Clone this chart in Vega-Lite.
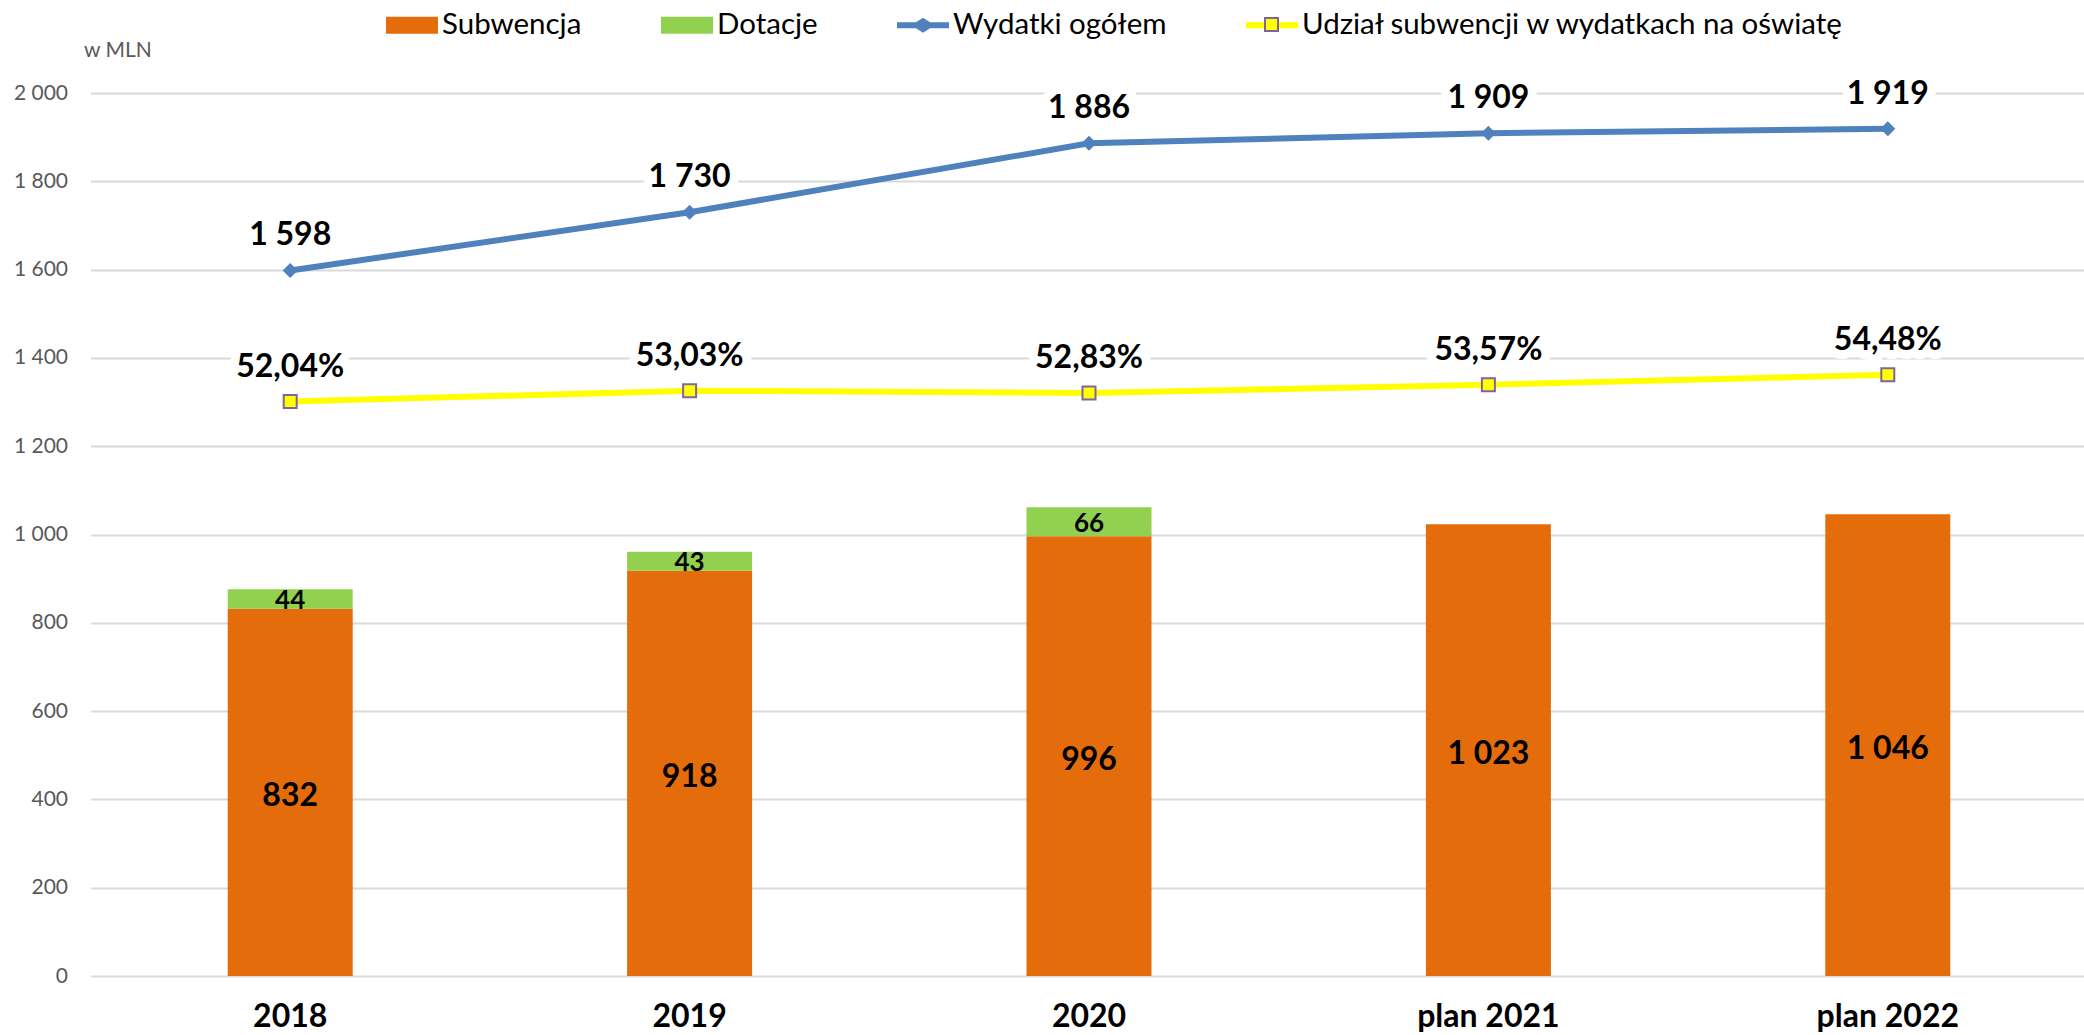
{
"$schema":"https://vega.github.io/schema/vega-lite/v6.json",
"width":1997,"height":883,
"autosize":{"type":"none"},
"padding":{"left":90.5,"top":93,"right":0,"bottom":59},
"background":"white",
"config":{
 "locale":{"number":{"decimal":",","thousands":"\u00a0","grouping":[3],"currency":["",""]}},
 "font":"Lato","view":{"stroke":null},
 "legend":{"symbolOpacity":1}
},
"datasets":{
 "bars":[
  {"year":"2018","series":"Subwencja","value":832},
  {"year":"2018","series":"Dotacje","value":44},
  {"year":"2019","series":"Subwencja","value":918},
  {"year":"2019","series":"Dotacje","value":43},
  {"year":"2020","series":"Subwencja","value":996},
  {"year":"2020","series":"Dotacje","value":66},
  {"year":"plan 2021","series":"Subwencja","value":1023},
  {"year":"plan 2022","series":"Subwencja","value":1046}
 ],
 "lines":[
  {"year":"2018","total":1598,"share":0.5204},
  {"year":"2019","total":1730,"share":0.5303},
  {"year":"2020","total":1886,"share":0.5283},
  {"year":"plan 2021","total":1909,"share":0.5357},
  {"year":"plan 2022","total":1919,"share":0.5448}
 ]
},
"encoding":{
 "x":{"field":"year","type":"nominal",
  "scale":{"domain":["2018","2019","2020","plan 2021","plan 2022"],"paddingInner":0.687,"paddingOuter":0.3435},
  "axis":{"title":null,"domain":false,"ticks":false,"labelAngle":0,"labelFont":"Lato","labelFontWeight":"bold","labelFontSize":32,"labelColor":"#000000","labelPadding":25,"grid":false}}
},
"layer":[
 {"data":{"name":"lines"},
  "mark":{"type":"text","font":"Lato","fontWeight":"bold","fontSize":32,"dy":-35,"stroke":"white","strokeWidth":18,"strokeJoin":"round","fill":"white"},
  "encoding":{
   "y":{"field":"total","type":"quantitative","scale":{"domain":[0,2000],"nice":false},
    "axis":{"title":"w MLN","titleAngle":0,"titleX":-7,"titleY":-43,"titleAlign":"left","titleBaseline":"middle","titleFont":"Lato","titleFontWeight":"normal","titleFontSize":21,"titleColor":"#595959",
     "values":[0,200,400,600,800,1000,1200,1400,1600,1800,2000],"format":",d","domain":false,"ticks":false,"labelFont":"Lato","labelFontSize":21,"labelColor":"#595959","labelPadding":23,
     "grid":true,"gridColor":"#D9D9D9","gridWidth":2}},
   "text":{"field":"total","type":"quantitative","format":",d"}
  }},
 {"data":{"name":"lines"},
  "mark":{"type":"text","font":"Lato","fontWeight":"bold","fontSize":32,"dy":-35,"stroke":"white","strokeWidth":18,"strokeJoin":"round","fill":"white"},
  "encoding":{
   "y":{"field":"share","type":"quantitative","scale":{"domain":[0,0.8],"nice":false},"axis":null},
   "text":{"field":"share","type":"quantitative","format":".2%"}
  }},
 {"data":{"name":"bars"},
  "transform":[{"stack":"value","groupby":["year"],"sort":[{"field":"series","order":"descending"}],"as":["v0","v1"]}],
  "mark":{"type":"bar","width":125},
  "encoding":{
   "y":{"field":"v0","type":"quantitative","scale":{"domain":[0,2000],"nice":false},"axis":null},
   "y2":{"field":"v1"},
   "color":{"field":"series","type":"nominal",
    "scale":{"domain":["Subwencja","Dotacje","Wydatki ogółem","Udział subwencji w wydatkach na oświatę"],"range":["#E46C0A","#92D050","#4F81BD","#FFFF00"]},
    "legend":{"title":null,"orient":"none","legendX":295.5,"legendY":-94,"columns":4,"columnPadding":79,"padding":0,"labelFont":"Lato","labelFontSize":29.5,"labelColor":"#000000","labelOffset":4,"symbolSize":2704,"symbolStrokeWidth":0,"labelLimit":700}}
  }},
 {"data":{"name":"bars"},
  "mark":{"type":"point","filled":true,"opacity":0},
  "encoding":{
   "color":{"field":"series","type":"nominal",
    "scale":{"domain":["Subwencja","Dotacje","Wydatki ogółem","Udział subwencji w wydatkach na oświatę"],"range":["#E46C0A","#92D050","#4F81BD","#FFFF00"]},
    "legend":{"title":null,"orient":"none","legendX":295.5,"legendY":-94,"columns":4,"columnPadding":79,"padding":0,"labelFont":"Lato","labelFontSize":29.5,"labelColor":"#000000","labelOffset":4,"symbolSize":2704,"symbolStrokeWidth":0,"labelLimit":700}},
   "shape":{"field":"series","type":"nominal",
    "scale":{"domain":["Subwencja","Dotacje","Wydatki ogółem","Udział subwencji w wydatkach na oświatę"],
     "range":["M-1,-0.327H1V0.327H-1Z","M-1,-0.327H1V0.327H-1Z","M-1,-0.115H-0.27L0,-0.29L0.27,-0.115H1V0.115H0.27L0,0.29L-0.27,0.115H-1Z","M-1,-0.115H1V0.115H-1Z"]},
    "legend":{"title":null,"orient":"none","legendX":295.5,"legendY":-94,"columns":4,"columnPadding":79,"padding":0,"labelFont":"Lato","labelFontSize":29.5,"labelColor":"#000000","labelOffset":4,"symbolSize":2704,"symbolStrokeWidth":0,"labelLimit":700}}
  }},
 {"data":{"name":"bars"},
  "transform":[
   {"stack":"value","groupby":["year"],"sort":[{"field":"series","order":"descending"}],"as":["v0","v1"]},
   {"filter":{"field":"series","equal":"Subwencja"}},
   {"fold":["v0","v1"],"as":["edge","pos"]}
  ],
  "mark":{"type":"text","font":"Lato","fontWeight":"bold","fontSize":32,"color":"#000000","dy":4},
  "encoding":{
   "y":{"aggregate":"mean","field":"pos","type":"quantitative","scale":{"domain":[0,2000],"nice":false},"axis":null},
   "text":{"field":"value","type":"quantitative","format":",d"}
  }},
 {"data":{"name":"bars"},
  "transform":[
   {"stack":"value","groupby":["year"],"sort":[{"field":"series","order":"descending"}],"as":["v0","v1"]},
   {"filter":{"field":"series","equal":"Dotacje"}},
   {"fold":["v0","v1"],"as":["edge","pos"]}
  ],
  "mark":{"type":"text","font":"Lato","fontWeight":"bold","fontSize":26,"color":"#000000","dy":2},
  "encoding":{
   "y":{"aggregate":"mean","field":"pos","type":"quantitative","scale":{"domain":[0,2000],"nice":false},"axis":null},
   "text":{"field":"value","type":"quantitative","format":",d"}
  }},
 {"data":{"name":"lines"},
  "mark":{"type":"line","color":"#4F81BD","strokeWidth":6},
  "encoding":{"y":{"field":"total","type":"quantitative","scale":{"domain":[0,2000],"nice":false},"axis":null}}},
 {"data":{"name":"lines"},
  "mark":{"type":"point","shape":"diamond","filled":true,"color":"#4F81BD","size":225,"opacity":1},
  "encoding":{"y":{"field":"total","type":"quantitative","scale":{"domain":[0,2000],"nice":false},"axis":null}}},
 {"data":{"name":"lines"},
  "mark":{"type":"line","color":"#FFFF00","strokeWidth":6},
  "encoding":{"y":{"field":"share","type":"quantitative","scale":{"domain":[0,0.8],"nice":false},"axis":null}}},
 {"data":{"name":"lines"},
  "mark":{"type":"point","shape":"square","filled":true,"fill":"#FFFF00","size":169,"strokeWidth":2,"opacity":1},
  "encoding":{
   "y":{"field":"share","type":"quantitative","scale":{"domain":[0,0.8],"nice":false},"axis":null},
   "stroke":{"datum":"Udział","type":"nominal","scale":{"domain":["Udział"],"range":["#8064A2"]},
    "legend":{"title":null,"orient":"none","legendX":1173.5,"legendY":-76,"padding":0,"labelExpr":"''","symbolType":"square","symbolSize":169,"symbolStrokeWidth":2,"symbolFillColor":"#FFFF00"}}
  }},
 {"data":{"name":"lines"},
  "mark":{"type":"text","font":"Lato","fontWeight":"bold","fontSize":32,"dy":-35,"color":"#000000"},
  "encoding":{
   "y":{"field":"total","type":"quantitative","scale":{"domain":[0,2000],"nice":false},"axis":null},
   "text":{"field":"total","type":"quantitative","format":",d"}
  }},
 {"data":{"name":"lines"},
  "mark":{"type":"text","font":"Lato","fontWeight":"bold","fontSize":32,"dy":-35,"color":"#000000"},
  "encoding":{
   "y":{"field":"share","type":"quantitative","scale":{"domain":[0,0.8],"nice":false},"axis":null},
   "text":{"field":"share","type":"quantitative","format":".2%"}
  }}
],
"resolve":{"scale":{"y":"independent"}}
}
